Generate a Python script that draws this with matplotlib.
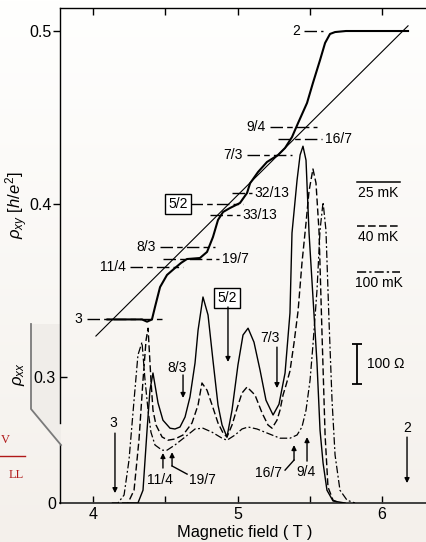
import numpy as np
import matplotlib
matplotlib.use('Agg')
import matplotlib.pyplot as plt
from matplotlib.patches import Polygon
from matplotlib.lines import Line2D

plt.rcParams['font.family'] = ['Liberation Sans', 'DejaVu Sans']
plt.rcParams['mathtext.fontset'] = 'custom'
plt.rcParams['mathtext.rm'] = 'Liberation Sans'
plt.rcParams['mathtext.it'] = 'Liberation Sans:italic'

# ---------------- data ----------------
# Hall resistance rho_xy (h/e^2) vs B (T), 25 mK trace
hall_B = [4.10, 4.20, 4.30, 4.339, 4.374, 4.408, 4.429, 4.464, 4.512, 4.567, 4.61, 4.650,
          4.740, 4.789, 4.830, 4.865, 4.900, 4.948, 5.017, 5.066, 5.087, 5.142, 5.204,
          5.280, 5.329, 5.377, 5.419, 5.481, 5.522, 5.571, 5.606, 5.640, 5.675, 5.75, 6.18]
hall_rho = [0.3333, 0.3333, 0.3333, 0.3333, 0.3320, 0.3333, 0.3405, 0.3520, 0.3590, 0.3630,
            0.3660, 0.3682, 0.3688, 0.3723, 0.3809, 0.3908, 0.3954, 0.3977, 0.4006, 0.4064,
            0.4120, 0.4185, 0.4243, 0.4283, 0.4324, 0.4387, 0.4468, 0.4584, 0.4700, 0.4832,
            0.4931, 0.4983, 0.4994, 0.5000, 0.5000]
# classical Hall line
classical_B = [4.02, 6.18]
classical_rho = [0.3237, 0.503]

# longitudinal resistance rho_xx (Ohm)
rxx25_B = [4.25, 4.311, 4.346, 4.374, 4.394, 4.415, 4.450, 4.484, 4.533, 4.567, 4.602, 4.637,
           4.671, 4.706, 4.727, 4.761, 4.796, 4.830, 4.865, 4.893, 4.927, 4.962, 5.003, 5.038,
           5.073, 5.114, 5.156, 5.197, 5.246, 5.287, 5.329, 5.363, 5.377, 5.412, 5.433, 5.453,
           5.474, 5.495, 5.522, 5.550, 5.571, 5.592, 5.619, 5.661, 5.744]
rxx25 = [0, 0, 32, 182, 282, 325, 250, 207, 187, 185, 190, 215,
         265, 350, 432, 515, 470, 357, 245, 195, 165, 232, 345, 420,
         437, 402, 332, 257, 220, 247, 325, 475, 675, 807, 870, 892,
         857, 675, 515, 350, 182, 100, 32, 5, 0]

rxx40_B = [4.20, 4.242, 4.284, 4.318, 4.346, 4.367, 4.381, 4.401, 4.415, 4.436, 4.478, 4.519,
           4.567, 4.623, 4.685, 4.727, 4.754, 4.789, 4.824, 4.865, 4.900, 4.927, 4.962, 4.997,
           5.031, 5.066, 5.121, 5.170, 5.211, 5.239, 5.273, 5.294, 5.315, 5.336, 5.363, 5.391,
           5.419, 5.446, 5.474, 5.495, 5.522, 5.543, 5.564, 5.585, 5.606, 5.626, 5.661, 5.709]
rxx40 = [0, 0, 32, 157, 307, 407, 437, 307, 232, 195, 165, 157,
         160, 170, 200, 245, 300, 282, 245, 200, 175, 165, 195, 237,
         275, 290, 270, 225, 195, 187, 207, 232, 270, 295, 330, 400,
         480, 600, 700, 780, 835, 800, 680, 420, 170, 40, 7, 0]

rxx100_B = [4.13, 4.173, 4.215, 4.249, 4.284, 4.311, 4.339, 4.360, 4.381, 4.401, 4.429, 4.478,
            4.512, 4.567, 4.637, 4.706, 4.761, 4.824, 4.893, 4.927, 4.983, 5.031, 5.073, 5.135,
            5.204, 5.294, 5.363, 5.412, 5.446, 5.474, 5.502, 5.522, 5.550, 5.571, 5.592, 5.612,
            5.633, 5.654, 5.675, 5.709, 5.758, 5.813]
rxx100 = [0, 0, 20, 107, 257, 370, 402, 307, 232, 177, 145, 132,
          132, 145, 165, 185, 187, 177, 162, 157, 170, 185, 190, 185,
          175, 162, 162, 170, 190, 232, 307, 395, 532, 682, 752, 682,
          457, 257, 120, 32, 7, 0]

# Hall plateau reference levels (filling factors)
level_labels = ['2', '9/4', '16/7', '7/3', '32/13', '5/2', '33/13', '8/3', '19/7', '11/4', '3']
level_nu = [2, 9/4, 16/7, 7/3, 32/13, 5/2, 33/13, 8/3, 19/7, 11/4, 3]
level_B_start = [5.46, 5.225, 5.28, 5.066, 4.962, 4.671, 4.81, 4.464, 4.484, 4.256, 3.958]
level_B_end = [5.592, 5.55, 5.585, 5.377, 5.10, 5.038, 5.017, 4.844, 4.872, 4.623, 4.484]
level_side = ['L', 'L', 'R', 'L', 'R', 'L', 'R', 'L', 'R', 'L', 'L']

temps = ['25 mK', '40 mK', '100 mK']

# ---------------- figure ----------------
W, H = 427, 542
fig = plt.figure(figsize=(W / 100, H / 100), dpi=100)

def fx(px):
    return px / W

def fy(py):
    return 1 - py / H

# background gradient
bg = fig.add_axes([0, 0, 1, 1], zorder=-10)
top = np.array([255, 255, 254]) / 255
bot = np.array([244, 240, 235]) / 255
t = np.linspace(0, 1, 256)[:, None, None]
grad = top[None, None, :] * (1 - t) + bot[None, None, :] * t
bg.imshow(np.repeat(grad, 2, axis=1), aspect='auto', extent=[0, 1, 0, 1])
bg.axis('off')

# left bracket shading
poly = Polygon([(fx(31), fy(324)), (fx(61), fy(324)), (fx(61), fy(445)), (fx(31), fy(409))],
               closed=True, transform=fig.transFigure, facecolor='#f0ede9', edgecolor='none', zorder=-5)
fig.patches.append(poly)
fig.lines.append(Line2D([fx(31), fx(31), fx(61)], [fy(324), fy(409), fy(445)],
                        transform=fig.transFigure, color='#7a7a7a', lw=1.3))

# red partial text at far left
fig.text(fx(1), fy(440), 'V', color='#b01818', family='Liberation Serif', fontsize=9,
         ha='left', va='center')
fig.lines.append(Line2D([0, fx(25)], [fy(456), fy(456)], transform=fig.transFigure,
                        color='#b01818', lw=1.0))
fig.text(fx(24), fy(475), 'LL', color='#b01818', family='Liberation Serif', fontsize=9,
         ha='right', va='center')

left, right = 60, 430
bottom_px, top_px = 503, 8
ax = fig.add_axes([fx(left), fy(bottom_px), (right - left) / W, (bottom_px - top_px) / H])
ax.set_facecolor('none')
B_min, B_max = 3.7716, 6.332
rho_min, rho_max = 0.2272, 0.5133
ax.set_xlim(B_min, B_max)
ax.set_ylim(rho_min, rho_max)

ax2 = ax.twinx()
ax2.set_ylim(0, 1237.5)
ax2.set_facecolor('none')

# spines
ax.spines['right'].set_visible(False)
ax.spines['left'].set_bounds(0.2734, rho_max)
ax.spines['left'].set_linewidth(1.0)
ax.spines['top'].set_linewidth(1.0)
ax.spines['bottom'].set_linewidth(1.3)
ax.spines['bottom'].set_color('#333333')
for s in ['right', 'top', 'bottom']:
    ax2.spines[s].set_visible(False)
ax2.spines['left'].set_visible(True)
ax2.spines['left'].set_bounds(0, 145)
ax2.spines['left'].set_linewidth(1.0)

# x ticks
ax.set_xticks([4, 5, 6])
ax.set_xticklabels(['4', '5', '6'])
ax.set_xticks([4.5, 5.5], minor=True)
ax.tick_params(axis='x', which='both', direction='in', top=True, bottom=True, length=5,
               width=1, labelsize=11.5, pad=3)
ax.set_xlabel('Magnetic field ( T )', fontsize=11.8, labelpad=2)

# y ticks (rho_xy)
ax.set_yticks([0.4, 0.5])
ax.set_yticklabels(['0.4', '0.5'])
ax.tick_params(axis='y', direction='out', length=5, width=1, labelsize=11.5, pad=1)
sec = ax.secondary_yaxis('left')
sec.set_yticks([0.3])
sec.set_yticklabels(['0.3'])
sec.tick_params(direction='in', length=5, width=1, labelsize=11.5, pad=3)
sec.spines['left'].set_visible(False)

ax2.yaxis.tick_left()
ax2.set_yticks([0])
ax2.set_yticklabels(['0'])
ax2.tick_params(axis='y', length=0, labelsize=11.5, pad=3)

fig.text(fx(17), fy(205), r'$\rho_{xy}$ [$h/e^2$]', rotation=90, ha='center', va='center', fontsize=12)
fig.text(fx(19), fy(374), r'$\rho_{xx}$', rotation=90, ha='center', va='center', fontsize=12)

# ---- rho_xy curves ----
ax.plot(classical_B, classical_rho, color='k', lw=0.8, zorder=3)
ax.plot(hall_B, hall_rho, color='k', lw=1.5, zorder=4, solid_joinstyle='round')

for lab, nu, b0, b1, side in zip(level_labels, level_nu, level_B_start, level_B_end, level_side):
    r = 1.0 / nu
    ax.plot([b0, b1], [r, r], color='k', lw=1.0, linestyle=(0, (9, 3, 4, 3)), zorder=3)
    if lab == '5/2':
        ax.text(b0 - 0.015, r, lab, ha='right', va='center', fontsize=10,
                bbox=dict(boxstyle='square,pad=0.25', fc='white', ec='k', lw=1.0))
    elif side == 'L':
        ax.text(b0 - 0.03, r, lab, ha='right', va='center', fontsize=10)
    else:
        ax.text(b1 + 0.02, r, lab, ha='left', va='center', fontsize=10)

# ---- rho_xx curves ----
ax2.plot(rxx25_B, rxx25, color='k', lw=1.0, solid_joinstyle='round')
ax2.plot(rxx40_B, rxx40, color='k', lw=1.0, linestyle=(0, (5, 2.2)))
ax2.plot(rxx100_B, rxx100, color='k', lw=0.9, linestyle=(0, (6, 2, 1.5, 2)))

# legend samples
leg_styles = ['-', (0, (5, 2.2)), (0, (6, 2, 1.5, 2))]
leg_line_rho = [0.4127, 0.3873, 0.3607]
for name, ls, r in zip(temps, leg_styles, leg_line_rho):
    ax.plot([5.827, 6.125], [r, r], color='k', lw=1.1, linestyle=ls)
    ax.text(5.976, r - 0.0025, name, ha='center', va='top', fontsize=10)

# scale bar 100 Ohm
ax2.errorbar([5.827], [347.5], yerr=[50], color='k', lw=1.3, capsize=3.5, capthick=1.3)
ax2.text(5.895, 347.5, '100 Ω', ha='left', va='center', fontsize=10)

# annotations on rho_xx
ap = dict(arrowstyle='-|>', color='k', lw=1.0, mutation_scale=7, shrinkA=0, shrinkB=0)
simple = [('3', (4.138, 0.2734), (4.152, 0.2676), (4.152, 0.2329)),
          ('2', (6.173, 0.2705), (6.173, 0.2653), (6.173, 0.2387)),
          ('8/3', (4.581, 0.3052), (4.623, 0.3012), (4.623, 0.2879)),
          ('7/3', (5.225, 0.3225), (5.273, 0.3173), (5.273, 0.2936)),
          ('11/4', (4.464, 0.2405), (4.484, 0.2474), (4.484, 0.2561)),
          ('9/4', (5.474, 0.2451), (5.481, 0.2514), (5.481, 0.2653))]
for lab, tp, a0, a1 in simple:
    ax.text(tp[0], tp[1], lab, ha='center', va='center', fontsize=10)
    ax.annotate('', xy=a1, xytext=a0, arrowprops=ap)

ax.text(4.927, 0.3457, '5/2', ha='center', va='center', fontsize=10,
        bbox=dict(boxstyle='square,pad=0.25', fc='white', ec='k', lw=1.0))
ax.annotate('', xy=(4.934, 0.3087), xytext=(4.934, 0.3405), arrowprops=ap)

# bent arrows
ax.text(4.754, 0.2405, '19/7', ha='center', va='center', fontsize=10)
ax.plot([4.651, 4.547], [0.2439, 0.2486], color='k', lw=1.0)
ax.annotate('', xy=(4.547, 0.2566), xytext=(4.547, 0.2486), arrowprops=ap)
ax.text(5.211, 0.2445, '16/7', ha='center', va='center', fontsize=10)
ax.plot([5.329, 5.391], [0.2462, 0.2520], color='k', lw=1.0)
ax.annotate('', xy=(5.391, 0.2607), xytext=(5.391, 0.2520), arrowprops=ap)

fig.savefig('out.png', dpi=100)
